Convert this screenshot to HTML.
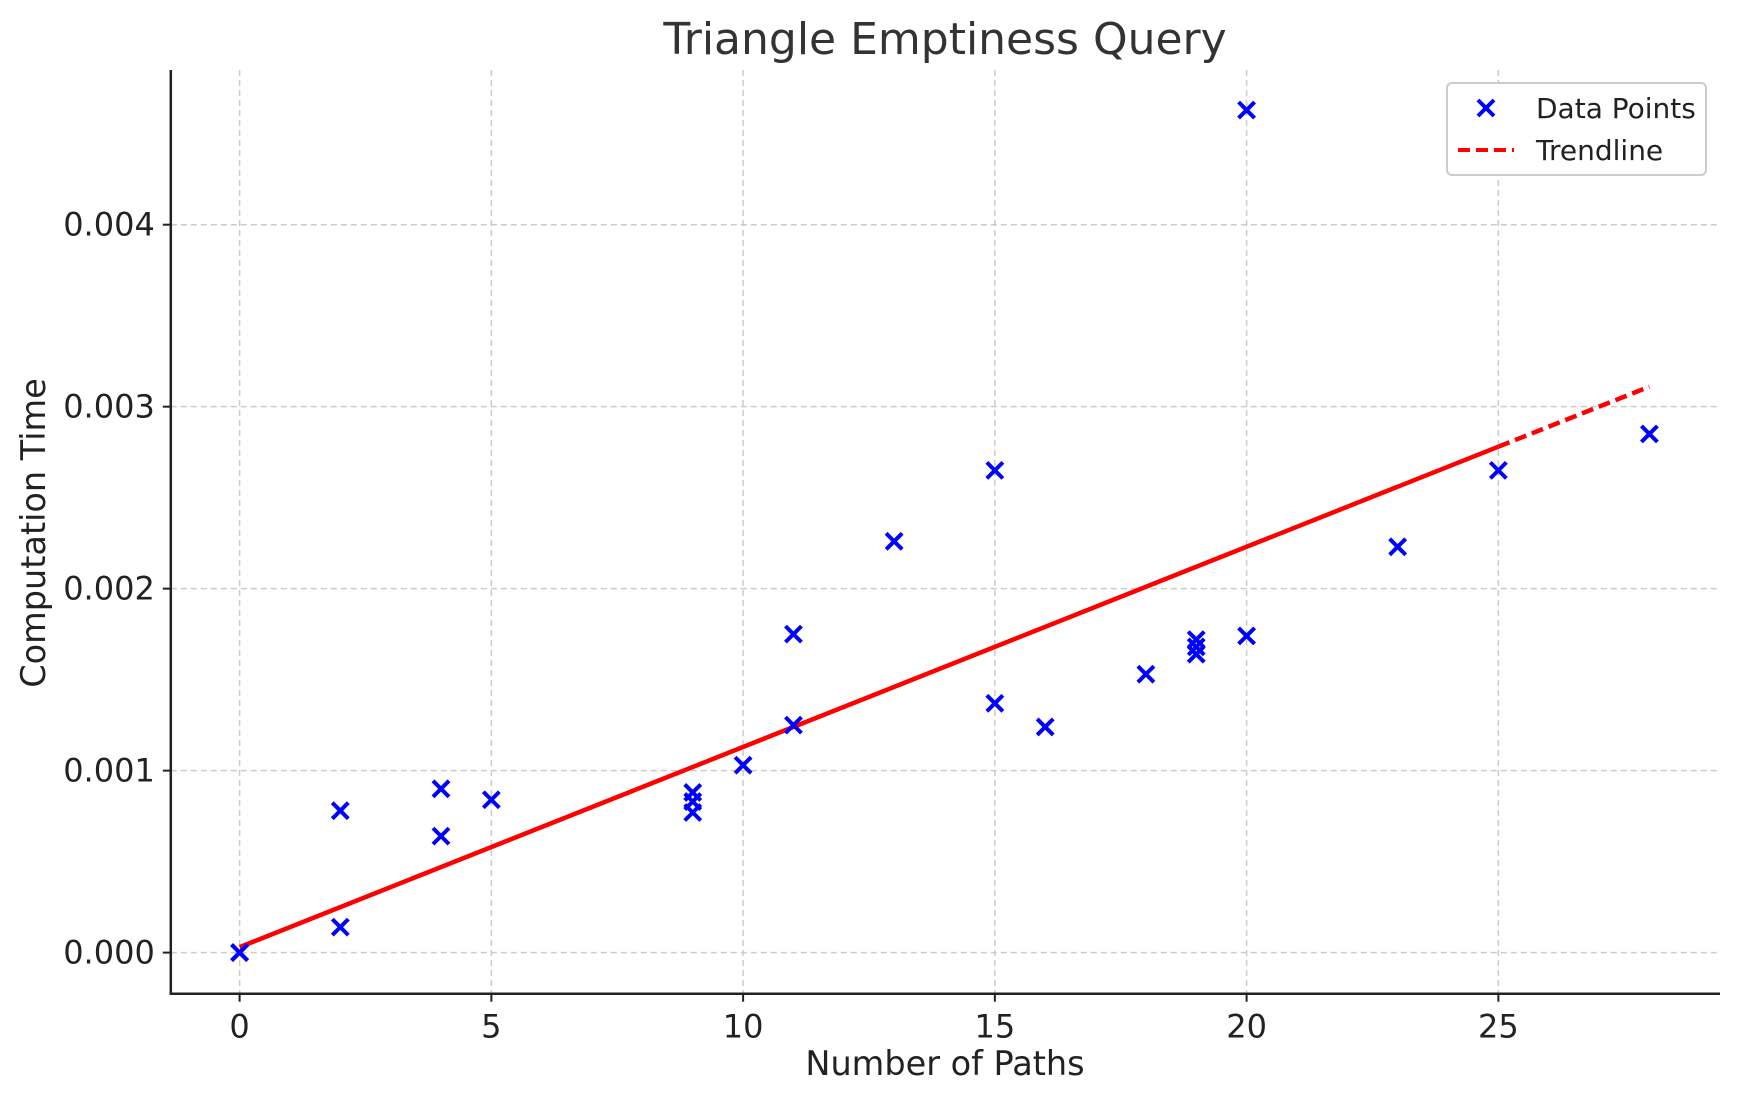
<!DOCTYPE html>
<html><head><meta charset="utf-8"><style>
body{margin:0;background:#fff}
svg text{font-family:"DejaVu Sans","Liberation Sans",sans-serif;fill:#222}
</style></head><body>
<svg width="1739" height="1101" xmlns="http://www.w3.org/2000/svg">
<g id="grid"></g>
<g id="marks"></g>
<g id="axes"></g>
<text x="945" y="54" text-anchor="middle" font-size="44" style="fill:#333">Triangle Emptiness Query</text>
<text x="945" y="1075" text-anchor="middle" font-size="33.5">Number of Paths</text>
<text transform="translate(45,533) rotate(-90)" text-anchor="middle" font-size="33.5">Computation Time</text>
<g>
<rect x="1447" y="83" width="259" height="92" rx="5" fill="#fff" stroke="#ccc" stroke-width="2"/>
<g stroke="#00f" stroke-width="4"><line x1="1478" y1="100" x2="1494" y2="116"/><line x1="1494" y1="100" x2="1478" y2="116"/></g>
<text x="1536" y="118" font-size="28">Data Points</text>
<line x1="1458" y1="150" x2="1514" y2="150" stroke="#f00" stroke-width="4" stroke-dasharray="12,6"/>
<text x="1536" y="160" font-size="28">Trendline</text>
</g>
</svg>
<script>
const xs=[0,0,2,2,4,4,5,9,9,9,10,11,11,13,15,15,16,18,19,19,19,20,20,23,25,28];
const ys=[0,0,0.00078,0.00014,0.0009,0.00064,0.00084,0.00088,0.00083,0.00077,0.00103,0.00175,0.00125,0.00226,0.00265,0.00137,0.00124,0.00153,0.00172,0.00168,0.00164,0.00463,0.00174,0.00223,0.00265,0.00285];
const xTicks=[0,5,10,15,20,25];
const yTicks=[0,0.001,0.002,0.003,0.004];
const yTickLabels=["0.000","0.001","0.002","0.003","0.004"];
const trendX=[0,25,28];
const trendY=[0.00003,0.00278,0.00311];
const NS="http://www.w3.org/2000/svg";
const X=v=>239.6+v*50.35;
const Y=v=>952.6-v*181975;
const L={l:170.8,r:1720,t:70,b:993.7};
function mk(t,a,p){const e=document.createElementNS(NS,t);for(const k in a)e.setAttribute(k,a[k]);p.appendChild(e);return e;}
const grid=document.getElementById('grid'),marks=document.getElementById('marks'),axes=document.getElementById('axes');
xTicks.forEach(v=>{
 const g=mk('line',{x1:X(v),x2:X(v),y1:L.t,y2:L.b,stroke:'#ccc','stroke-width':1.5,'stroke-dasharray':'6,4'},grid);
 
 
 const t=mk('line',{x1:X(v),x2:X(v),y1:L.b,y2:L.b+8,stroke:'#222','stroke-width':2},axes);
 
 
 const tx=mk('text',{x:X(v),y:L.b+44,'text-anchor':'middle','font-size':32},axes);tx.textContent=v;
 
 
});
yTicks.forEach((v,i)=>{
 const g=mk('line',{x1:L.l,x2:L.r,y1:Y(v),y2:Y(v),stroke:'#ccc','stroke-width':1.5,'stroke-dasharray':'6,4'},grid);
 
 
 const t=mk('line',{x1:L.l-8,x2:L.l,y1:Y(v),y2:Y(v),stroke:'#222','stroke-width':2},axes);
 
 
 const tx=mk('text',{x:L.l-16,y:Y(v)+11,'text-anchor':'end','font-size':32},axes);tx.textContent=yTickLabels[i];
 
 
});
const ax=mk('path',{d:`M${L.l},${L.t}V${L.b}H${L.r}`,fill:'none',stroke:'#222','stroke-width':2.5},axes);


const t1=mk('line',{x1:X(trendX[0]),y1:Y(trendY[0]),x2:X(trendX[1]),y2:Y(trendY[1]),stroke:'#f00','stroke-width':4.5},marks);


const t2=mk('line',{x1:X(trendX[1]),y1:Y(trendY[1]),x2:X(trendX[2]),y2:Y(trendY[2]),stroke:'#f00','stroke-width':4.5,'stroke-dasharray':'12,6'},marks);


xs.forEach((x,i)=>{
 const cx=X(x),cy=Y(ys[i]),s=8;
 const g=mk('g',{stroke:'#00f','stroke-width':4},marks);
 
 
 mk('line',{x1:cx-s,y1:cy-s,x2:cx+s,y2:cy+s},g);
 mk('line',{x1:cx+s,y1:cy-s,x2:cx-s,y2:cy+s},g);
});
</script>
</body></html>
